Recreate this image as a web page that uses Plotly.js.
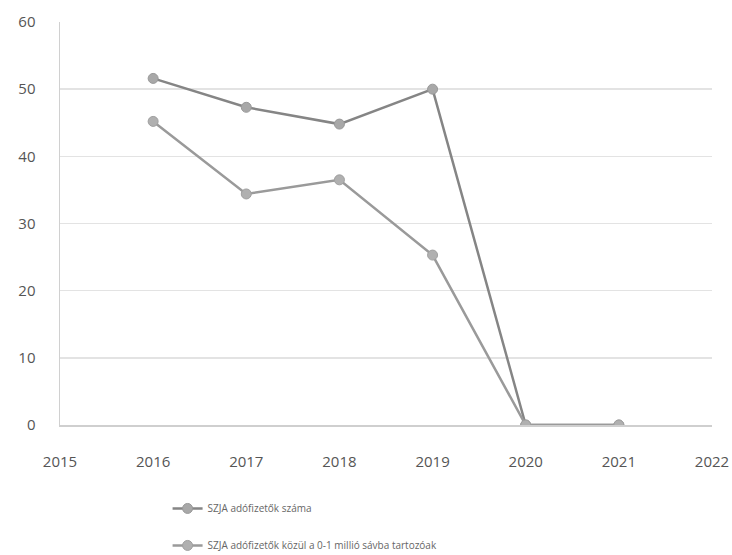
<!DOCTYPE html>
<html><head><meta charset="utf-8">
<script src="https://cdn.plot.ly/plotly-3.0.1.min.js"></script>
<style>body{margin:0;background:#fff}#c{width:732px;height:555px}</style>
</head><body><div id="c"></div>
<script>
const years = [2016, 2017, 2018, 2019, 2020, 2021];
const seriesNames = ["SZJA adófizetők száma", "SZJA adófizetők közül a 0-1 millió sávba tartozóak"];
const taxpayers = [51.6, 47.3, 44.8, 50.0, 0, 0];
const band01 = [45.2, 34.4, 36.5, 25.3, 0, 0];
const xTicks = [2015, 2016, 2017, 2018, 2019, 2020, 2021, 2022];
const yTicks = [0, 10, 20, 30, 40, 50, 60];

const traces = [
  {x: years, y: taxpayers, name: seriesNames[0], type: 'scatter', mode: 'lines+markers', legendgroup: 'a',
   line: {color: '#858585', width: 2.5}, marker: {color: '#a8a8a8', size: 10, line: {color: '#999', width: 1}}},
  {x: years, y: band01, name: seriesNames[1], type: 'scatter', mode: 'lines+markers', legendgroup: 'b',
   line: {color: '#9a9a9a', width: 2.5}, marker: {color: '#b0b0b0', size: 10, line: {color: '#a0a0a0', width: 1}}}
];
const layout = {
  width: 732, height: 555,
  margin: {l: 60, r: 20, t: 22, b: 130},
  paper_bgcolor: '#fff', plot_bgcolor: '#fff',
  font: {family: 'Open Sans, sans-serif', color: '#555'},
  xaxis: {range: [2015, 2022], tickvals: xTicks, ticktext: xTicks.map(String), showgrid: false, zeroline: false,
          showline: true, linecolor: '#cfcfcf', linewidth: 1.5, ticks: '', ticklabelstandoff: 22, automargin: false,
          tickfont: {size: 15, color: '#555'}},
  yaxis: {range: [0, 60], tickvals: yTicks, showgrid: true, gridcolor: '#e3e3e3', gridwidth: 1.5, zeroline: false,
          showline: true, linecolor: '#d0d0d0', linewidth: 1.5, ticks: '', ticklabelstandoff: 20, automargin: false,
          tickfont: {size: 15, color: '#555'}},
  showlegend: true,
  legend: {orientation: 'v', x: 0.165, xanchor: 'left', yref: 'container', y: 0.11, yanchor: 'top', tracegroupgap: 18,
           font: {size: 10, color: '#666'}, bgcolor: 'rgba(0,0,0,0)'}
};
Plotly.newPlot('c', traces, layout, {displayModeBar: false, staticPlot: true});
</script></body></html>
